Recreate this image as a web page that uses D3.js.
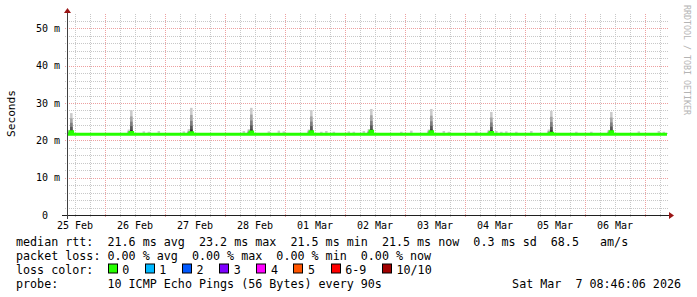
<!DOCTYPE html>
<html><head><meta charset="utf-8">
<script src="https://cdn.jsdelivr.net/npm/d3@7/dist/d3.min.js"></script>
<style>
body{margin:0;background:#fff;}
svg{display:block;}
text{font-family:"DejaVu Sans Mono",monospace;white-space:pre;}
</style>
</head><body>
<svg id="c" width="697" height="297"></svg>
<script>
// ---------- data ----------
const startTime = "2026-02-25T08:46:06Z";
const endTime   = "2026-03-07T08:46:06Z";
const yMax = 53.57;
const yTickValues = [0, 10, 20, 30, 40, 50];
const yTickLabels = ["0", "10 m", "20 m", "30 m", "40 m", "50 m"];
const xTickDays = ["2026-02-25","2026-02-26","2026-02-27","2026-02-28","2026-03-01","2026-03-02","2026-03-03","2026-03-04","2026-03-05","2026-03-06"];
const xTickLabels = ["25 Feb","26 Feb","27 Feb","28 Feb","01 Mar","02 Mar","03 Mar","04 Mar","05 Mar","06 Mar"];

const medianBase = 21.6;
// daily latency spikes (start of the 1-hour column, median, sorted 10 pings)
const spikeTimes = ["2026-02-25T10:00:00Z","2026-02-26T10:00:00Z","2026-02-27T10:00:00Z","2026-02-28T10:00:00Z","2026-03-01T10:00:00Z","2026-03-02T10:00:00Z","2026-03-03T10:00:00Z","2026-03-04T10:00:00Z","2026-03-05T10:00:00Z","2026-03-06T10:00:00Z"];
const spikeMedian = [22.3, 22.1, 22.0, 22.2, 22.3, 22.4, 22.3, 22.1, 21.9, 22.3];
const spikePings = [
  [21.4,21.5,21.6,21.8,22.3,22.8,23.6,24.7,25.9,27.3],
  [21.4,21.5,21.6,21.8,22.2,22.8,23.8,25.0,26.4,28.1],
  [21.4,21.5,21.6,21.9,22.2,22.9,23.9,25.2,26.8,28.7],
  [21.4,21.5,21.6,21.9,22.3,22.9,24.0,25.3,26.9,28.7],
  [21.4,21.5,21.6,21.8,22.3,22.8,23.8,25.0,26.4,28.1],
  [21.4,21.5,21.6,21.9,22.4,23.0,24.0,25.2,26.7,28.4],
  [21.4,21.5,21.6,21.9,22.3,22.9,23.9,25.1,26.6,28.4],
  [21.4,21.5,21.6,21.8,22.2,22.7,23.6,24.8,26.1,27.6],
  [21.4,21.5,21.5,21.7,22.1,22.7,23.6,24.9,26.3,27.9],
  [21.4,21.5,21.6,21.8,22.3,22.8,23.7,24.8,26.1,27.6]
];
const spikeLeadPings = [
  [21.4,21.5,21.5,21.6,21.6,21.7,21.9,22.1,22.4,22.8],
  [21.4,21.5,21.5,21.6,21.6,21.7,21.9,22.1,22.5,22.9],
  [21.4,21.5,21.5,21.6,21.6,21.8,22.0,22.2,22.5,23.0],
  [21.4,21.5,21.5,21.6,21.6,21.8,22.0,22.2,22.6,23.0],
  [21.4,21.5,21.5,21.6,21.6,21.7,21.9,22.1,22.5,22.9],
  [21.4,21.5,21.5,21.6,21.6,21.8,22.0,22.2,22.5,23.0],
  [21.4,21.5,21.5,21.6,21.6,21.7,21.9,22.1,22.5,22.9],
  [21.4,21.5,21.5,21.6,21.6,21.7,21.9,22.1,22.4,22.8],
  [21.4,21.5,21.5,21.6,21.6,21.7,21.9,22.1,22.5,22.9],
  [21.4,21.5,21.5,21.6,21.6,21.7,21.9,22.1,22.4,22.8]
];
// small smoke bumps above the median line (column start, highest ping)
const noiseTimes = ["2026-02-26T15:00:00Z","2026-02-26T17:00:00Z","2026-02-26T21:00:00Z","2026-02-27T07:00:00Z","2026-02-28T07:00:00Z","2026-02-28T17:00:00Z","2026-02-28T21:00:00Z","2026-02-28T23:00:00Z","2026-03-01T14:00:00Z","2026-03-01T16:00:00Z","2026-03-01T19:00:00Z","2026-03-02T01:00:00Z","2026-03-02T03:00:00Z","2026-03-02T07:00:00Z","2026-03-02T22:00:00Z","2026-03-03T02:00:00Z","2026-03-03T15:00:00Z","2026-03-03T17:00:00Z","2026-03-04T04:00:00Z","2026-03-04T12:00:00Z","2026-03-04T14:00:00Z","2026-03-04T16:00:00Z","2026-03-04T20:00:00Z","2026-03-05T02:00:00Z","2026-03-05T20:00:00Z","2026-03-06T02:00:00Z","2026-03-06T21:00:00Z","2026-03-07T05:00:00Z","2026-03-07T07:00:00Z"];
const noiseTop   = [22.4,22.3,22.5,22.4,22.5,22.4,22.6,22.4,22.3,22.5,22.3,22.4,22.3,22.5,22.3,22.6,22.5,22.3,22.4,22.5,22.3,22.4,22.3,22.5,22.3,22.3,22.4,22.5,22.3];
const noiseLowPings = [21.4,21.4,21.5,21.5,21.5,21.6,21.6,21.7,21.9];

const smokeGrays = ["#cacaca","#a4a4a4","#7e7e7e","#585858","#323232"];
const lossLabels = ["0","1","2","3","4","5","6-9","10/10"];
const lossColors = ["#26ff00","#00b8ff","#0059ff","#7e00ff","#ff00ff","#ff5500","#ff0000","#a10000"];
const legendLines = [
  "median rtt:  21.6 ms avg  23.2 ms max  21.5 ms min  21.5 ms now  0.3 ms sd  68.5   am/s",
  "packet loss: 0.00 % avg  0.00 % max  0.00 % min  0.00 % now",
  "loss color:",
  "probe:       10 ICMP Echo Pings (56 Bytes) every 90s"
];
const stampText = "Sat Mar  7 08:46:06 2026";
const yAxisTitle = "Seconds";
const watermark = "RRDTOOL / TOBI OETIKER";

// ---------- drawing ----------
const svg = d3.select("#c");
const X0 = 67, X1 = 667, YB = 215, YT = 15;
const x = d3.scaleUtc().domain([new Date(startTime), new Date(endTime)]).range([X0, X1]);
const y = d3.scaleLinear().domain([0, yMax]).range([YB, YT]);
const step = 60 * 60 * 1000;

svg.append("rect").attr("width", 697).attr("height", 297).attr("fill", "#fff");

// grid
const g = svg.append("g");
const minorY = d3.range(2, yMax, 2).filter(v => v % 10 !== 0);
g.selectAll(".hmin").data(minorY).join("line")
  .attr("x1", X0 - 2).attr("x2", X1 + 2)
  .attr("y1", d => Math.round(y(d)) + 0.5).attr("y2", d => Math.round(y(d)) + 0.5)
  .attr("stroke", "#c8c8c8").attr("stroke-dasharray", "1,1");
const dom = x.domain();
const sixH = d3.utcHour.every(6).range(dom[0], dom[1]).filter(d => d.getUTCHours() !== 0);
g.selectAll(".vmin").data(sixH).join("line")
  .attr("x1", d => Math.round(x(d)) + 0.5).attr("x2", d => Math.round(x(d)) + 0.5)
  .attr("y1", YB + 2).attr("y2", YT - 2)
  .attr("stroke", "#c8c8c8").attr("stroke-dasharray", "1,1");
g.selectAll(".hmaj").data(yTickValues.filter(v => v > 0)).join("line")
  .attr("x1", X0 - 2).attr("x2", X1 + 2)
  .attr("y1", d => Math.round(y(d)) + 0.5).attr("y2", d => Math.round(y(d)) + 0.5)
  .attr("stroke", "#eda0a0").attr("stroke-dasharray", "1,1");
const days = d3.utcDay.range(dom[0], dom[1]);
g.selectAll(".vmaj").data(days).join("line")
  .attr("x1", d => Math.round(x(d)) + 0.5).attr("x2", d => Math.round(x(d)) + 0.5)
  .attr("y1", YB + 2).attr("y2", YT - 2)
  .attr("stroke", "#eda0a0").attr("stroke-dasharray", "1,1");

// smoke columns
const cols = [];
noiseTimes.forEach((t, i) => cols.push({t: new Date(t), p: noiseLowPings.concat([noiseTop[i]])}));
spikeTimes.forEach((t, i) => {
  const d = new Date(t);
  cols.push({t: new Date(+d - step), p: spikeLeadPings[i]});
  cols.push({t: d, p: spikePings[i]});
});
const smoke = svg.append("g");
for (let k = 0; k < 5; k++) {
  smoke.selectAll(".s" + k).data(cols).join("rect")
    .attr("x", d => x(d.t))
    .attr("width", d => x(new Date(+d.t + step)) - x(d.t))
    .attr("y", d => y(d.p[9 - k]))
    .attr("height", d => Math.max(0, y(d.p[k]) - y(d.p[9 - k])))
    .attr("fill", smokeGrays[k]);
}

// median line
const med = [{t: dom[0], v: medianBase}];
spikeTimes.forEach((t, i) => {
  const d = new Date(t);
  med.push({t: d, v: spikeMedian[i]});
  med.push({t: new Date(+d + step), v: medianBase});
});
med.push({t: dom[1], v: medianBase});
svg.append("path")
  .attr("d", d3.line().x(d => x(d.t)).y(d => y(d.v)).curve(d3.curveStepAfter)(med))
  .attr("fill", "none").attr("stroke", lossColors[0]).attr("stroke-width", 3);

// axes
svg.append("line").attr("x1", X0 - 5).attr("x2", X1 + 3).attr("y1", YB + 0.5).attr("y2", YB + 0.5)
  .attr("stroke", "#202020");
svg.append("line").attr("x1", X0 + 0.5).attr("x2", X0 + 0.5).attr("y1", YB + 4).attr("y2", YT - 3)
  .attr("stroke", "#404040");
svg.append("path").attr("d", `M${X1 + 2},${YB - 3}L${X1 + 7},${YB + 0.5}L${X1 + 2},${YB + 4}Z`).attr("fill", "#9a1515");
svg.append("path").attr("d", `M${X0 - 3},${YT - 2}L${X0 + 0.5},${YT - 7}L${X0 + 4},${YT - 2}Z`).attr("fill", "#9a1515");

// y labels
svg.selectAll(".yl").data(yTickValues).join("text")
  .attr("x", (d, i) => yTickLabels[i].length === 1 ? 48 : 60)
  .attr("y", d => y(d) + 3.8)
  .attr("text-anchor", "end").attr("font-size", 10).attr("fill", "#000")
  .text((d, i) => yTickLabels[i]);

// x labels
svg.selectAll(".xl").data(xTickDays).join("text")
  .attr("x", d => x(d3.utcHour.offset(new Date(d + "T00:00:00Z"), 12)))
  .attr("y", 228.5)
  .attr("text-anchor", "middle").attr("font-size", 10).attr("fill", "#000")
  .text((d, i) => xTickLabels[i]);

// y-axis title
svg.append("text").attr("transform", "translate(14.5,113.5) rotate(-90)")
  .attr("text-anchor", "middle").attr("font-size", 11.2).attr("fill", "#000").text(yAxisTitle);

// watermark
svg.append("text").attr("transform", "translate(684,5) rotate(90)")
  .attr("font-size", 8.3).attr("fill", "#b4b4b4").text(watermark);

// legend
const FS = 11.7, CW = FS * 0.602, LX = 16;
const baseY = [245.5, 259.5, 273.5, 287.5];
svg.selectAll(".lg").data(legendLines).join("text")
  .attr("x", LX).attr("y", (d, i) => baseY[i])
  .attr("font-size", FS).attr("fill", "#000").text(d => d);
// loss colour entries
const BOX = 9;
let cx = LX + 13 * CW;
const entries = lossLabels.map((lab, i) => {
  const e = {lab, col: lossColors[i], x: cx};
  cx += BOX + CW + lab.length * CW + 2 * CW;
  return e;
});
svg.selectAll(".lb").data(entries).join("rect")
  .attr("x", d => Math.round(d.x) + 0.5).attr("y", baseY[2] - 9.5)
  .attr("width", BOX).attr("height", BOX)
  .attr("fill", d => d.col).attr("stroke", "#000").attr("stroke-width", 1);
svg.selectAll(".lt").data(entries).join("text")
  .attr("x", d => d.x + BOX + CW * 0.8).attr("y", baseY[2])
  .attr("font-size", FS).attr("fill", "#000").text(d => d.lab);

svg.append("text").attr("x", 681).attr("y", baseY[3]).attr("text-anchor", "end")
  .attr("font-size", FS).attr("fill", "#000").text(stampText);
</script>
</body></html>
